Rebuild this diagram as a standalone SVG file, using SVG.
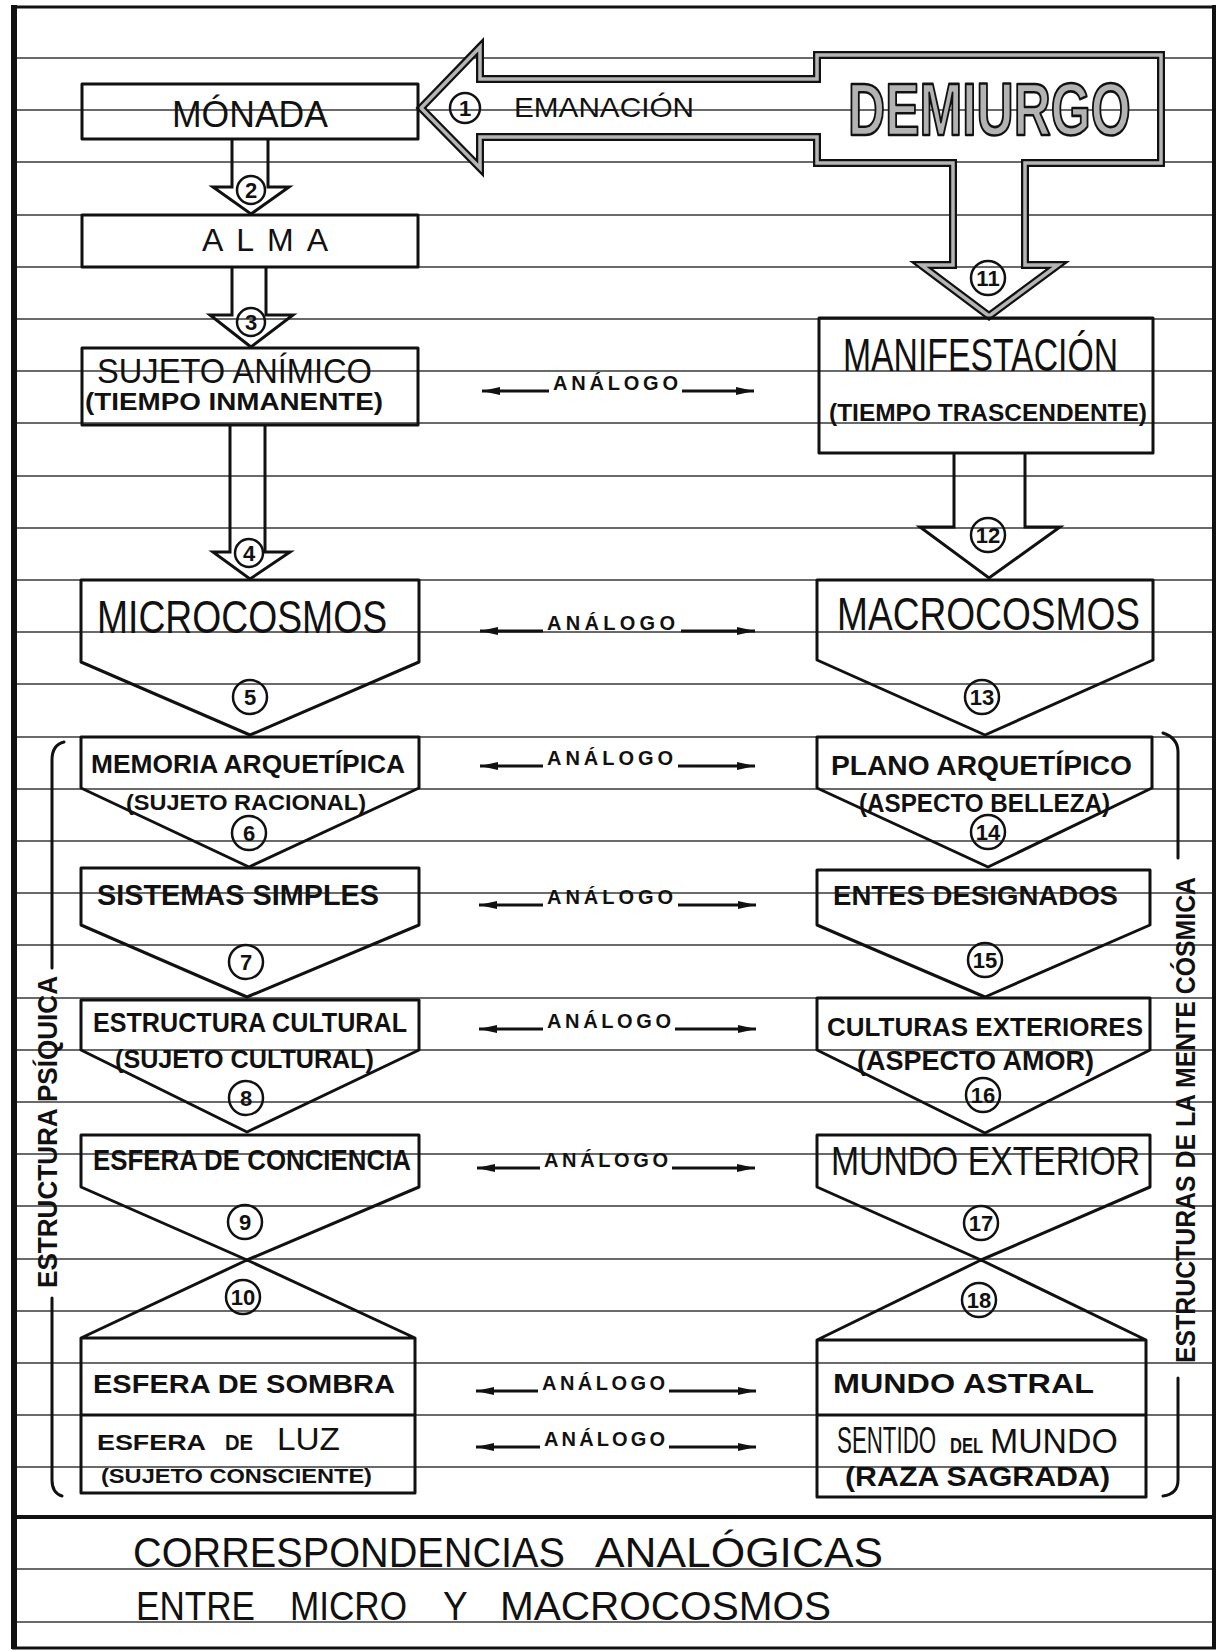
<svg xmlns="http://www.w3.org/2000/svg" width="1221" height="1651" viewBox="0 0 1221 1651">
<style>
.rule{fill:none;stroke:#3a3a3a;stroke-width:1.3}
.frame{fill:none;stroke:#111}
.box{fill:none;stroke:#111;stroke-width:3;stroke-linejoin:round}
.dbl1{fill:none;stroke:#111;stroke-width:8;stroke-linejoin:miter}
.dbl2{fill:none;stroke:#b5b5b5;stroke-width:3.5;stroke-linejoin:miter}
.circ{fill:none;stroke:#111;stroke-width:2.5}
.t{font-family:"Liberation Sans",Arial,sans-serif;fill:#111}
.b{font-weight:bold}
.hollow{font-family:"Liberation Sans",Arial,sans-serif;font-weight:bold;fill:#b3b3b3;stroke:#111;stroke-width:2.6;stroke-linejoin:round}
.num{font-family:"Liberation Sans",Arial,sans-serif;font-weight:bold;font-size:22px;fill:#111;text-anchor:middle}
.an{font-family:"Liberation Sans",Arial,sans-serif;font-weight:bold;font-size:20px;fill:#111}
.ar{stroke:#111;stroke-width:3;fill:none}
.brk{fill:none;stroke:#111;stroke-width:3;stroke-linecap:round}
</style>
<defs>
<marker id="ah" markerUnits="userSpaceOnUse" markerWidth="20" markerHeight="10" refX="18" refY="4" orient="auto">
<path d="M0,0 L18,4 L0,8 Z" fill="#111"/>
</marker>
</defs>
<rect x="0" y="0" width="1221" height="1651" fill="#fff"/>
<g id="paper">
<path class="rule" d="M16 58H1212M16 110H1212M16 162H1212M16 215H1212M16 267H1212M16 319H1212M16 371H1212M16 423H1212M16 476H1212M16 528H1212M16 580H1212M16 632H1212M16 684H1212M16 737H1212M16 789H1212M16 841H1212M16 893H1212M16 945H1212M16 998H1212M16 1050H1212M16 1102H1212M16 1154H1212M16 1206H1212M16 1259H1212M16 1311H1212M16 1363H1212M16 1415H1212M16 1467H1212M16 1569H1212M16 1622H1212"/>
<line class="frame" x1="14" y1="5" x2="14" y2="1649" stroke-width="6"/>
<line class="frame" x1="1214" y1="5" x2="1214" y2="1649" stroke-width="4"/>
<line class="frame" x1="12" y1="7" x2="1216" y2="7" stroke-width="3"/>
<line class="frame" x1="12" y1="1648" x2="1216" y2="1648" stroke-width="3"/>
<line class="frame" x1="12" y1="1517" x2="1216" y2="1517" stroke-width="4"/>
</g>
<g id="demiurgo">
<path class="dbl1" d="M421 108 L480 47 V79 H817 V55 H1161 V163 H1025 V265 H1058 L989 316 L921 265 H953 V163 H817 V137 H480 V168 Z"/>
<path class="dbl2" d="M421 108 L480 47 V79 H817 V55 H1161 V163 H1025 V265 H1058 L989 316 L921 265 H953 V163 H817 V137 H480 V168 Z"/>
<text class="hollow" transform="translate(848,135) scale(0.695,1)" x="0" y="0" font-size="74">DEMIURGO</text>
<text class="t" x="514" y="117" font-size="28" textLength="180" lengthAdjust="spacingAndGlyphs">EMANACIÓN</text>
<circle class="circ" cx="465" cy="108" r="15"/><text class="num" x="465" y="116">1</text>
<circle class="circ" cx="988" cy="278" r="17"/><text class="num" x="988" y="286">11</text>
</g>
<g id="connectors">
<path class="ar" d="M232 139 V187 H213 L251 214 L289 187 H268 V139"/>
<path class="ar" d="M232 267 V315 H210 L251 347 L293 315 H266 V267"/>
<path class="ar" d="M230 425 V552 H213 L250 579 L290 552 H265 V425"/>
<path class="ar" d="M954 453 V527 H920 L989 578 L1060 527 H1025 V453"/>
<g id="analogo-1"><line class="ar" x1="549" y1="391" x2="482" y2="391" marker-end="url(#ah)"/><text class="an" x="553" y="390" textLength="125" lengthAdjust="spacing">ANÁLOGO</text><line class="ar" x1="682" y1="391" x2="754" y2="391" marker-end="url(#ah)"/></g>
<g id="analogo-2"><line class="ar" x1="543" y1="631" x2="480" y2="631" marker-end="url(#ah)"/><text class="an" x="547" y="630" textLength="128" lengthAdjust="spacing">ANÁLOGO</text><line class="ar" x1="681" y1="631" x2="755" y2="631" marker-end="url(#ah)"/></g>
<g id="analogo-3"><line class="ar" x1="543" y1="766" x2="480" y2="766" marker-end="url(#ah)"/><text class="an" x="547" y="765" textLength="126" lengthAdjust="spacing">ANÁLOGO</text><line class="ar" x1="678" y1="766" x2="755" y2="766" marker-end="url(#ah)"/></g>
<g id="analogo-4"><line class="ar" x1="543" y1="905" x2="479" y2="905" marker-end="url(#ah)"/><text class="an" x="547" y="904" textLength="126" lengthAdjust="spacing">ANÁLOGO</text><line class="ar" x1="678" y1="905" x2="756" y2="905" marker-end="url(#ah)"/></g>
<g id="analogo-5"><line class="ar" x1="543" y1="1029" x2="479" y2="1029" marker-end="url(#ah)"/><text class="an" x="547" y="1028" textLength="124" lengthAdjust="spacing">ANÁLOGO</text><line class="ar" x1="675" y1="1029" x2="756" y2="1029" marker-end="url(#ah)"/></g>
<g id="analogo-6"><line class="ar" x1="540" y1="1168" x2="477" y2="1168" marker-end="url(#ah)"/><text class="an" x="544" y="1167" textLength="124" lengthAdjust="spacing">ANÁLOGO</text><line class="ar" x1="672" y1="1168" x2="755" y2="1168" marker-end="url(#ah)"/></g>
<g id="analogo-7"><line class="ar" x1="538" y1="1391" x2="476" y2="1391" marker-end="url(#ah)"/><text class="an" x="542" y="1390" textLength="123" lengthAdjust="spacing">ANÁLOGO</text><line class="ar" x1="669" y1="1391" x2="756" y2="1391" marker-end="url(#ah)"/></g>
<g id="analogo-8"><line class="ar" x1="540" y1="1447" x2="476" y2="1447" marker-end="url(#ah)"/><text class="an" x="544" y="1446" textLength="121" lengthAdjust="spacing">ANÁLOGO</text><line class="ar" x1="669" y1="1447" x2="756" y2="1447" marker-end="url(#ah)"/></g>
</g>
<g id="monada">
<rect class="box" x="82" y="84" width="336" height="55"/>
<text class="t" x="172" y="127" font-size="36" textLength="156" lengthAdjust="spacingAndGlyphs">MÓNADA</text>
<circle class="circ" cx="251" cy="190" r="14"/><text class="num" x="251" y="198">2</text>
</g>
<g id="alma">
<rect class="box" x="82" y="215" width="336" height="52"/>
<text class="t" x="202" y="251" font-size="32" textLength="126" lengthAdjust="spacing">ALMA</text>
<circle class="circ" cx="251" cy="322" r="14"/><text class="num" x="251" y="330">3</text>
</g>
<g id="sujeto-animico">
<rect class="box" x="82" y="348" width="336" height="77"/>
<text class="t" x="97" y="383" font-size="35" textLength="275" lengthAdjust="spacingAndGlyphs">SUJETO ANÍMICO</text>
<text class="t b" x="85" y="410" font-size="24" textLength="298" lengthAdjust="spacingAndGlyphs">(TIEMPO INMANENTE)</text>
<circle class="circ" cx="249" cy="553" r="14"/><text class="num" x="249" y="561">4</text>
</g>
<g id="microcosmos">
<path class="box" d="M81 580 H419 V662 L250 735 L81 662 Z"/>
<text class="t" x="97" y="633" font-size="46" textLength="290" lengthAdjust="spacingAndGlyphs">MICROCOSMOS</text>
<circle class="circ" cx="250" cy="697" r="17"/><text class="num" x="250" y="705">5</text>
</g>
<g id="memoria-arquetipica">
<path class="box" d="M81 737 H419 V788 L249 867 L81 788 Z"/>
<text class="t b" x="91" y="773" font-size="26" textLength="314" lengthAdjust="spacingAndGlyphs">MEMORIA ARQUETÍPICA</text>
<text class="t b" x="126" y="810" font-size="22" textLength="240" lengthAdjust="spacingAndGlyphs">(SUJETO RACIONAL)</text>
<circle class="circ" cx="249" cy="833" r="17"/><text class="num" x="249" y="841">6</text>
</g>
<g id="sistemas-simples">
<path class="box" d="M81 868 H419 V925 L247 997 L81 925 Z"/>
<text class="t b" x="97" y="905" font-size="30" textLength="282" lengthAdjust="spacingAndGlyphs">SISTEMAS SIMPLES</text>
<circle class="circ" cx="246" cy="962" r="17"/><text class="num" x="246" y="970">7</text>
</g>
<g id="estructura-cultural">
<path class="box" d="M81 1000 H419 V1050 L247 1132 L81 1050 Z"/>
<text class="t b" x="93" y="1032" font-size="27" textLength="314" lengthAdjust="spacingAndGlyphs">ESTRUCTURA CULTURAL</text>
<text class="t b" x="115" y="1068" font-size="26" textLength="259" lengthAdjust="spacingAndGlyphs">(SUJETO CULTURAL)</text>
<circle class="circ" cx="246" cy="1098" r="17"/><text class="num" x="246" y="1106">8</text>
</g>
<g id="esfera-conciencia">
<path class="box" d="M81 1135 H419 V1187 L247 1260 L81 1187 Z"/>
<text class="t b" x="93" y="1170" font-size="29" textLength="318" lengthAdjust="spacingAndGlyphs">ESFERA DE CONCIENCIA</text>
<circle class="circ" cx="245" cy="1222" r="17"/><text class="num" x="245" y="1230">9</text>
</g>
<g id="esfera-sombra-luz">
<path class="box" d="M81 1493 V1338 L247 1260 L415 1338 V1493 Z M81 1338 H415 M81 1415 H415"/>
<circle class="circ" cx="243" cy="1297" r="17"/><text class="num" x="243" y="1305">10</text>
<text class="t b" x="93" y="1393" font-size="25" textLength="302" lengthAdjust="spacingAndGlyphs">ESFERA DE SOMBRA</text>
<text class="t b" y="1450"><tspan x="97" font-size="22" textLength="109" lengthAdjust="spacingAndGlyphs">ESFERA</tspan> <tspan x="225" font-size="22" textLength="28" lengthAdjust="spacingAndGlyphs">DE</tspan> <tspan x="277" font-size="31" font-weight="normal" textLength="63" lengthAdjust="spacingAndGlyphs">LUZ</tspan></text>
<text class="t b" x="101" y="1483" font-size="21" textLength="271" lengthAdjust="spacingAndGlyphs">(SUJETO CONSCIENTE)</text>
</g>
<g id="manifestacion">
<rect class="box" x="819" y="318" width="334" height="135"/>
<text class="t" x="843" y="371" font-size="46" textLength="275" lengthAdjust="spacingAndGlyphs">MANIFESTACIÓN</text>
<text class="t b" x="829" y="421" font-size="24" textLength="318" lengthAdjust="spacingAndGlyphs">(TIEMPO TRASCENDENTE)</text>
<circle class="circ" cx="988" cy="535" r="17"/><text class="num" x="988" y="543">12</text>
</g>
<g id="macrocosmos">
<path class="box" d="M817 580 H1153 V660 L985 735 L817 660 Z"/>
<text class="t" x="837" y="630" font-size="47" textLength="303" lengthAdjust="spacingAndGlyphs">MACROCOSMOS</text>
<circle class="circ" cx="982" cy="697" r="17"/><text class="num" x="982" y="705">13</text>
</g>
<g id="plano-arquetipico">
<path class="box" d="M817 737 H1152 V788 L988 867 L817 788 Z"/>
<text class="t b" x="831" y="775" font-size="27" textLength="301" lengthAdjust="spacingAndGlyphs">PLANO ARQUETÍPICO</text>
<text class="t b" x="859" y="812" font-size="26" textLength="251" lengthAdjust="spacingAndGlyphs">(ASPECTO BELLEZA)</text>
<circle class="circ" cx="988" cy="832" r="17"/><text class="num" x="988" y="840">14</text>
</g>
<g id="entes-designados">
<path class="box" d="M817 870 H1150 V925 L985 997 L817 925 Z"/>
<text class="t b" x="833" y="905" font-size="28" textLength="285" lengthAdjust="spacingAndGlyphs">ENTES DESIGNADOS</text>
<circle class="circ" cx="985" cy="960" r="17"/><text class="num" x="985" y="968">15</text>
</g>
<g id="culturas-exteriores">
<path class="box" d="M817 998 H1150 V1050 L985 1133 L817 1050 Z"/>
<text class="t b" x="827" y="1036" font-size="26" textLength="316" lengthAdjust="spacingAndGlyphs">CULTURAS EXTERIORES</text>
<text class="t b" x="857" y="1070" font-size="28" textLength="237" lengthAdjust="spacingAndGlyphs">(ASPECTO AMOR)</text>
<circle class="circ" cx="983" cy="1095" r="17"/><text class="num" x="983" y="1103">16</text>
</g>
<g id="mundo-exterior">
<path class="box" d="M817 1135 H1150 V1187 L981 1260 L817 1187 Z"/>
<text class="t" x="831" y="1175" font-size="41" textLength="309" lengthAdjust="spacingAndGlyphs">MUNDO EXTERIOR</text>
<circle class="circ" cx="981" cy="1223" r="17"/><text class="num" x="981" y="1231">17</text>
</g>
<g id="mundo-astral-sentido">
<path class="box" d="M817 1497 V1340 L981 1260 L1146 1340 V1497 Z M817 1340 H1146 M817 1415 H1146"/>
<circle class="circ" cx="979" cy="1300" r="17"/><text class="num" x="979" y="1308">18</text>
<text class="t b" x="833" y="1393" font-size="28" textLength="261" lengthAdjust="spacingAndGlyphs">MUNDO ASTRAL</text>
<text class="t" transform="translate(837,1453) scale(0.62,1)" x="0" y="0" font-size="36">SENTIDO</text>
<text class="t b" transform="translate(950,1453) scale(0.75,1)" x="0" y="0" font-size="22">DEL</text>
<text class="t" transform="translate(990,1453) scale(0.94,1)" x="0" y="0" font-size="36">MUNDO</text>
<text class="t b" x="845" y="1486" font-size="27" textLength="265" lengthAdjust="spacingAndGlyphs">(RAZA SAGRADA)</text>
</g>
<g id="estructura-psiquica">
<path class="brk" d="M64 742 Q52 745 52 760 V968 M52 1298 V1480 Q52 1493 62 1496"/>
<text class="t b" transform="translate(57,1288) rotate(-90)" font-size="28" textLength="312" lengthAdjust="spacingAndGlyphs">ESTRUCTURA PSÍQUICA</text>
</g>
<g id="estructuras-mente-cosmica">
<path class="brk" d="M1163 733 Q1178 738 1178 752 V858 M1178 1378 V1480 Q1178 1494 1163 1496"/>
<text class="t b" transform="translate(1195,1363) rotate(-90)" font-size="27" textLength="486" lengthAdjust="spacingAndGlyphs">ESTRUCTURAS DE LA MENTE CÓSMICA</text>
</g>
<g id="titulo">
<text class="t" y="1567" font-size="42"><tspan x="133" textLength="432" lengthAdjust="spacingAndGlyphs">CORRESPONDENCIAS</tspan> <tspan x="595" textLength="288" lengthAdjust="spacingAndGlyphs">ANALÓGICAS</tspan></text>
<text class="t" y="1620" font-size="40"><tspan x="136" textLength="119" lengthAdjust="spacingAndGlyphs">ENTRE</tspan> <tspan x="290" textLength="117" lengthAdjust="spacingAndGlyphs">MICRO</tspan> <tspan x="443" textLength="24" lengthAdjust="spacingAndGlyphs">Y</tspan> <tspan x="500" textLength="331" lengthAdjust="spacingAndGlyphs">MACROCOSMOS</tspan></text>
</g>
</svg>
